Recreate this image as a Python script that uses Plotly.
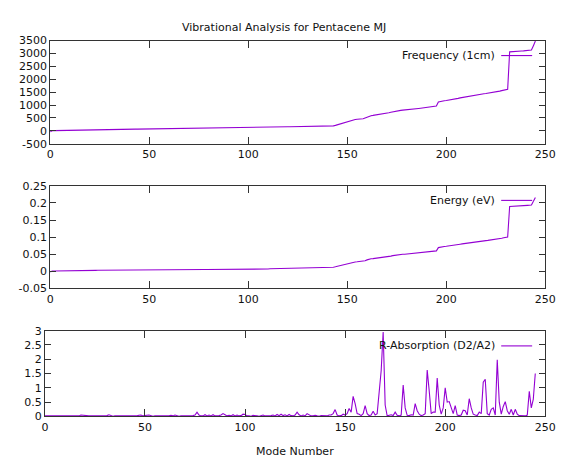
import plotly.graph_objects as go

# Vibrational modes of pentacene: frequency (cm^-1), energy (eV) and R-absorption ratio
frequency = [
    -35,
    8, 10, 12, 13, 15, 16, 18, 19, 20, 22, 23, 25,
    40, 41, 42, 43, 44, 45, 46, 47, 48, 49, 50, 51, 52, 53, 54, 55, 56,
    57, 58, 59, 60, 61, 62, 63, 64, 65, 66, 67, 68, 69, 70, 71, 72,
    78, 79, 80, 81, 82, 83, 84, 85, 86, 87, 88, 89, 90, 91, 92, 93, 94,
    95, 96, 97, 98, 99, 100, 101, 102, 103, 104, 105, 106, 107, 108, 109,
    110, 111, 112, 113, 114, 115, 116, 117,
    122, 123, 124, 125, 126, 127, 128, 129, 130, 131, 132, 133, 134, 135,
    136, 137, 138, 139, 140, 141, 142, 143, 144, 145, 146, 147, 148,
    152, 153, 154, 155, 156, 157, 158, 159, 160, 161, 162, 163, 164, 165,
    166, 167, 168, 169, 170, 171,
    182, 183, 184, 185, 186, 187, 188, 189, 190, 191,
    195, 215, 240, 265, 290, 310, 335, 355, 390, 415,
    430, 440, 450, 455, 460, 470, 500, 540, 575, 590,
    600, 610, 620, 630, 640, 650, 665, 690, 705, 720,
    740, 760, 775, 785, 795, 805, 810, 820, 830, 835,
    845, 855, 860, 870, 880, 890, 900, 905, 915, 925,
    935, 950, 965, 1120, 1145, 1160, 1170, 1180, 1190, 1200,
    1215, 1230, 1245, 1260, 1280, 1295, 1310, 1330, 1345, 1360,
    1380, 1395, 1410, 1420, 1425, 1430, 1440, 1450, 1460, 1470,
    1480, 1490, 1505, 1520, 1540, 1560, 1580, 1600, 1615, 3060,
    3070, 3075, 3080, 3085, 3090, 3095, 3100, 3105, 3110, 3115,
    3130, 3300, 3480,
]

energy = [
    -0.0020,
    0.0008, 0.0009, 0.0009, 0.0010, 0.0010, 0.0011, 0.0011, 0.0012, 0.0012, 0.0013,
    0.0013, 0.0014, 0.0014, 0.0015, 0.0015, 0.0016, 0.0016, 0.0017, 0.0017, 0.0018,
    0.0018,
    0.0030, 0.0030, 0.0031, 0.0031, 0.0031, 0.0032, 0.0032, 0.0032, 0.0033, 0.0033,
    0.0033, 0.0034, 0.0034, 0.0034, 0.0035, 0.0035, 0.0035, 0.0036, 0.0036, 0.0036,
    0.0037, 0.0037, 0.0037, 0.0038, 0.0038, 0.0038, 0.0039, 0.0039, 0.0039, 0.0040,
    0.0040, 0.0040, 0.0041, 0.0041, 0.0041, 0.0042, 0.0042, 0.0042, 0.0043, 0.0043,
    0.0043, 0.0044, 0.0044, 0.0044, 0.0045, 0.0045, 0.0045, 0.0046, 0.0046, 0.0046,
    0.0047, 0.0047, 0.0047,
    0.0052, 0.0052, 0.0053, 0.0053, 0.0054, 0.0054, 0.0055, 0.0055, 0.0056, 0.0056,
    0.0057, 0.0057, 0.0058, 0.0058, 0.0059, 0.0059, 0.0060, 0.0060, 0.0061, 0.0061,
    0.0062, 0.0062, 0.0063, 0.0063, 0.0064, 0.0064, 0.0065, 0.0065, 0.0066, 0.0066,
    0.0067, 0.0067, 0.0068, 0.0068, 0.0069, 0.0069,
    0.0078, 0.0079, 0.0079, 0.0080, 0.0080, 0.0081, 0.0081, 0.0082, 0.0082, 0.0083,
    0.0083, 0.0084, 0.0084, 0.0085, 0.0085, 0.0086, 0.0086, 0.0087, 0.0087, 0.0088,
    0.0088, 0.0089,
    0.0110, 0.0111, 0.0112, 0.0113, 0.0114, 0.0114, 0.0115, 0.0116, 0.0117, 0.0118,
    0.0121, 0.0133, 0.0149, 0.0164, 0.0180, 0.0192, 0.0208, 0.0220, 0.0242, 0.0257,
    0.0267, 0.0273, 0.0279, 0.0282, 0.0285, 0.0291, 0.0310, 0.0335, 0.0357, 0.0366,
    0.0372, 0.0378, 0.0384, 0.0391, 0.0397, 0.0403, 0.0412, 0.0428, 0.0437, 0.0446,
    0.0459, 0.0471, 0.0481, 0.0487, 0.0493, 0.0499, 0.0502, 0.0508, 0.0515, 0.0518,
    0.0524, 0.0530, 0.0533, 0.0539, 0.0546, 0.0552, 0.0558, 0.0561, 0.0567, 0.0574,
    0.0580, 0.0589, 0.0598, 0.0694, 0.0710, 0.0719, 0.0725, 0.0732, 0.0738, 0.0744,
    0.0753, 0.0763, 0.0772, 0.0781, 0.0794, 0.0803, 0.0812, 0.0825, 0.0834, 0.0843,
    0.0856, 0.0865, 0.0874, 0.0880, 0.0884, 0.0887, 0.0893, 0.0899, 0.0905, 0.0911,
    0.0918, 0.0924, 0.0933, 0.0942, 0.0955, 0.0967, 0.0980, 0.0992, 0.1001, 0.1897,
    0.1903, 0.1907, 0.1910, 0.1913, 0.1916, 0.1919, 0.1922, 0.1925, 0.1928, 0.1931,
    0.1941, 0.2046, 0.2158,
]

r_absorption = [
    0.02, 0.01, 0.02, 0.02, 0.01, 0.02, 0.02, 0.01, 0.02, 0.02,
    0.01, 0.02, 0.02, 0.01, 0.02, 0.02, 0.01, 0.02, 0.05, 0.04,
    0.02, 0.01, 0.02, 0.02, 0.01, 0.02, 0.02, 0.01, 0.02, 0.02,
    0.02, 0.03, 0.06, 0.02, 0.01, 0.02, 0.02, 0.01, 0.02, 0.02,
    0.02, 0.01, 0.02, 0.02, 0.01, 0.02, 0.02, 0.04, 0.05, 0.02,
    0.02, 0.04, 0.05, 0.02, 0.01, 0.02, 0.02, 0.01, 0.02, 0.02,
    0.02, 0.01, 0.02, 0.04, 0.02, 0.05, 0.02, 0.01, 0.02, 0.02,
    0.02, 0.01, 0.02, 0.02, 0.03, 0.05, 0.15, 0.05, 0.02, 0.02,
    0.06, 0.02, 0.05, 0.02, 0.06, 0.02, 0.02, 0.03, 0.05, 0.10,
    0.06, 0.02, 0.04, 0.02, 0.06, 0.02, 0.05, 0.02, 0.03, 0.08,
    0.07, 0.02, 0.02, 0.01, 0.04, 0.02, 0.02, 0.01, 0.02, 0.05,
    0.02, 0.01, 0.02, 0.03, 0.05, 0.02, 0.07, 0.03, 0.08, 0.03,
    0.06, 0.02, 0.07, 0.03, 0.02, 0.05, 0.15, 0.06, 0.02, 0.05,
    0.02, 0.10, 0.05, 0.02, 0.02, 0.04, 0.02, 0.01, 0.03, 0.02,
    0.02, 0.02, 0.05,
    0.05, 0.10, 0.24, 0.05, 0.02, 0.03, 0.08, 0.05, 0.10, 0.28,
    0.15, 0.70, 0.45, 0.10, 0.08, 0.03, 0.10, 0.38, 0.10, 0.03,
    0.05, 0.18, 0.05, 0.10, 0.90, 1.60, 2.95, 0.40, 0.02, 0.03,
    0.06, 0.03, 0.15, 0.04, 0.02, 0.05, 1.10, 0.30, 0.04, 0.03,
    0.06, 0.05, 0.45, 0.20, 0.08, 0.03, 0.05, 0.10, 1.62, 0.90,
    0.10, 0.15, 0.15, 1.34, 0.40, 0.08, 0.30, 1.00, 0.50, 0.52,
    0.30, 0.10, 0.38, 0.05, 0.03, 0.05, 0.22, 0.20, 0.05, 0.62,
    0.30, 0.08, 0.05, 0.03, 0.15, 0.10, 1.20, 1.30, 0.10, 0.05,
    0.25, 0.30, 0.05, 1.98, 0.50, 0.08, 0.35, 0.52, 0.20, 0.08,
    0.25, 0.05, 0.25, 0.08, 0.03, 0.02, 0.03, 0.02, 0.05, 0.88,
    0.30, 0.60, 1.50,
]

mode_number = list(range(len(frequency)))

x_ticks = [0, 50, 100, 150, 200, 250]
freq_ticks = [-500, 0, 500, 1000, 1500, 2000, 2500, 3000, 3500]
freq_labels = ["-500", "0", "500", "1000", "1500", "2000", "2500", "3000", "3500"]
energy_ticks = [-0.05, 0, 0.05, 0.1, 0.15, 0.2, 0.25]
energy_labels = ["-0.05", "0", "0.05", "0.1", "0.15", "0.2", "0.25"]
rabs_ticks = [0, 0.5, 1, 1.5, 2, 2.5, 3]
rabs_labels = ["0", "0.5", "1", "1.5", "2", "2.5", "3"]

series_names = ["Frequency (1cm)", "Energy (eV)", "R-Absorption (D2/A2)"]
title_text = "Vibrational Analysis for Pentacene MJ"
x_title = "Mode Number"

W, H = 567, 464
LINE = "#9400d3"
AXIS = "#333333"
FONT = dict(family="DejaVu Sans", size=11, color="#111111")


def px_x(v):
    return v / W


def px_y(v):
    return 1 - v / H


# panel boxes in pixels: (left, right, top, bottom)
panels = [
    (47.5, 556.0, 35.5, 141.8),
    (47.5, 556.0, 185.0, 290.6),
    (42.0, 556.0, 334.0, 422.3),
]

fig = go.Figure()
series = [frequency, energy, r_absorption]
for i, ys in enumerate(series):
    suffix = "" if i == 0 else str(i + 1)
    fig.add_trace(go.Scatter(
        x=mode_number, y=ys, mode="lines",
        line=dict(color=LINE, width=1.1),
        xaxis="x" + suffix, yaxis="y" + suffix,
        showlegend=False, hoverinfo="skip",
    ))

yspecs = [
    ([-500, 3500], freq_ticks, freq_labels),
    ([-0.05, 0.25], energy_ticks, energy_labels),
    ([0, 3], rabs_ticks, rabs_labels),
]

layout = dict(
    width=W, height=H,
    margin=dict(l=0, r=0, t=0, b=0),
    paper_bgcolor="white", plot_bgcolor="white",
    font=FONT,
    showlegend=False,
)

for i, (left, right, top, bottom) in enumerate(panels):
    suffix = "" if i == 0 else str(i + 1)
    yr, yt, yl = yspecs[i]
    layout["xaxis" + suffix] = dict(
        domain=[px_x(left), px_x(right)],
        anchor="y" + suffix,
        range=[0, 250],
        tickvals=x_ticks, ticktext=[str(t) for t in x_ticks],
        ticks="inside", ticklen=7, tickwidth=1, tickcolor=AXIS,
        showline=True, linecolor=AXIS, linewidth=1, mirror="allticks",
        showgrid=False, zeroline=False,
        tickfont=FONT,
    )
    layout["yaxis" + suffix] = dict(
        domain=[px_y(bottom), px_y(top)],
        anchor="x" + suffix,
        range=yr,
        tickvals=yt, ticktext=yl,
        ticks="inside", ticklen=6, tickwidth=1, tickcolor=AXIS,
        showline=True, linecolor=AXIS, linewidth=1, mirror="allticks",
        showgrid=False, zeroline=False,
        tickfont=FONT,
    )

fig.update_layout(**layout)

# gnuplot-style key: label then line sample, top right of each panel
key_rows = [51.0, 200.0, 349.7]
for name, ky in zip(series_names, key_rows):
    fig.add_annotation(
        x=px_x(506.0), y=px_y(ky), xref="paper", yref="paper",
        text=name, showarrow=False, xanchor="right", yanchor="middle",
        font=FONT,
    )
    fig.add_shape(
        type="line", xref="paper", yref="paper",
        x0=px_x(510.7), x1=px_x(542.5), y0=px_y(ky), y1=px_y(ky),
        line=dict(color=LINE, width=1.1),
    )

fig.add_annotation(
    x=px_x(288), y=px_y(21.7), xref="paper", yref="paper",
    text=title_text, showarrow=False, xanchor="center", yanchor="middle",
    font=FONT,
)
fig.add_annotation(
    x=px_x(299), y=px_y(458), xref="paper", yref="paper",
    text=x_title, showarrow=False, xanchor="center", yanchor="middle",
    font=FONT,
)

fig.write_html("out.html", config={"displayModeBar": False})
